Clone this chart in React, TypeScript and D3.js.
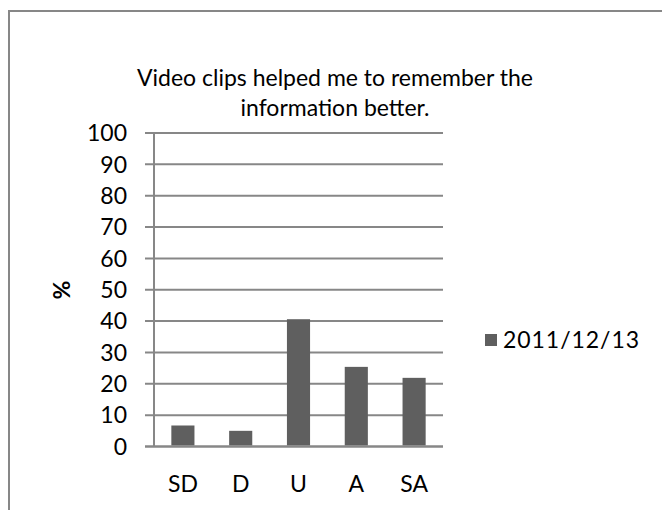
import React from 'react';
import { scaleBand, scaleLinear, range } from 'd3';

const categories = ['SD', 'D', 'U', 'A', 'SA'];
const values = [6.7, 5.0, 40.6, 25.4, 21.9];
const yTicks = range(0, 101, 10);
const seriesName = '2011/12/13';
const titleLines = ['Video clips helped me to remember the', 'information better.'];

const W = 662;
const H = 510;
const font = 'Lato, "Open Sans", sans-serif';
const gray = '#878787';
const barColor = '#5f5f5f';

export default function App() {
  const x = scaleBand<string>().domain(categories).range([154, 443]).paddingInner(0.6).paddingOuter(0.3);
  const y = scaleLinear().domain([0, 100]).range([446.5, 133]);

  return (
    <div style={{ position: 'absolute', left: 0, top: 0 }}>
      <svg width={W} height={H} style={{ display: 'block', background: '#fff' }}>
        {/* chart border (clipped at right/bottom) */}
        <rect x={9} y={11} width={W + 10} height={H + 10} fill="#fff" stroke={gray} strokeWidth={2} />

        {titleLines.map((t, i) => (
          <text key={i} x={335} y={86 + i * 30} textAnchor="middle" fontFamily={font} fontSize={23} fill="#000">
            {t}
          </text>
        ))}

        {/* gridlines + ticks */}
        {yTicks.map(t => (
          <g key={t}>
            <line x1={145} x2={443} y1={y(t)} y2={y(t)} stroke={gray} strokeWidth={2} />
            <text x={127} y={y(t)} dy="0.36em" textAnchor="end" fontFamily={font} fontSize={23} fill="#000">
              {t}
            </text>
          </g>
        ))}
        <line x1={154} x2={154} y1={y(100)} y2={y(0)} stroke={gray} strokeWidth={2} />

        {categories.map((c, i) => (
          <rect key={c} x={x(c)} y={y(values[i])} width={x.bandwidth()} height={y(0) - y(values[i]) - 1} fill={barColor} />
        ))}
        <line x1={145} x2={443} y1={y(0)} y2={y(0)} stroke={gray} strokeWidth={2} />

        {categories.map(c => (
          <text key={c} x={(x(c) ?? 0) + x.bandwidth() / 2} y={484} dy="0.36em" textAnchor="middle" fontFamily={font} fontSize={23} fill="#000">
            {c}
          </text>
        ))}

        <text transform="translate(62,290) rotate(-90)" textAnchor="middle" dy="0.36em" fontFamily={font} fontSize={23} fontWeight="bold" fill="#000">
          %
        </text>

        <rect x={485} y={334} width={12} height={12} fill={barColor} />
        <text x={503} y={340} dy="0.36em" fontFamily={font} fontSize={23} textLength={136} fill="#000">
          {seriesName}
        </text>
      </svg>
    </div>
  );
}
